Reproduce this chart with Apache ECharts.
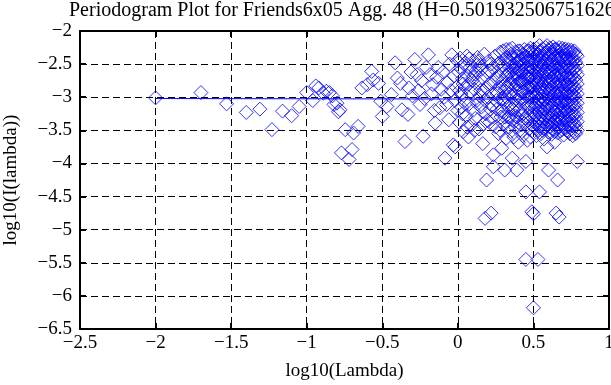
<!DOCTYPE html>
<html><head><meta charset="utf-8">
<script src="https://cdn.jsdelivr.net/npm/echarts@6/dist/echarts.min.js"></script>
<style>html,body{margin:0;padding:0;background:#fff}#c{width:611px;height:385px}</style>
</head><body><div id="c"></div>
<script>
const titleText = 'Periodogram Plot for Friends6x05 Agg. 48 (H=0.501932506751626)';
const xAxisName = 'log10(Lambda)';
const yAxisName = 'log10(I(lambda))';
const xTickLabels = ['\u22122.5','\u22122','\u22121.5','\u22121','\u22120.5','0','0.5','1'];
const yTickLabels = ['\u22126.5','\u22126','\u22125.5','\u22125','\u22124.5','\u22124','\u22123.5','\u22123','\u22122.5','\u22122'];

// fitted line (log10 lambda, log10 I)
const fitX = [-2.0, 0.80];
const fitY = [-3.02, -3.03];

// sparse low-frequency points [x, y]
const sparsePoints = [
[-2.00,-3.01],[-1.70,-2.93],[-1.53,-3.10],[-1.40,-3.23],[-1.31,-3.18],[-1.23,-3.49],[-1.16,-3.21],[-1.10,-3.28],[-1.05,-3.14],[-1.00,-2.93],
[-0.96,-3.05],[-0.94,-2.83],[-0.92,-2.86],[-0.89,-2.94],[-0.87,-2.91],[-0.85,-2.93],[-0.83,-2.98],[-0.82,-3.11],[-0.80,-3.09],[-0.79,-3.22],
[-0.78,-3.19],[-0.77,-3.84],[-0.745,-3.49],[-0.72,-3.94],[-0.70,-3.79],[-0.69,-3.54],[-0.66,-3.44],[-0.635,-2.86],[-0.60,-2.81],[-0.57,-2.61],
[-0.56,-2.74],[-0.525,-2.79],[-0.51,-3.06],
[-0.50,-3.29],[-0.47,-3.14],[-0.44,-2.96],[-0.415,-2.48],[-0.40,-2.71],[-0.38,-2.79],[-0.37,-3.19],[-0.35,-3.67],[-0.33,-3.26],[-0.325,-2.86],
[-0.31,-2.62],[-0.30,-2.98],[-0.285,-2.43],[-0.27,-2.66],[-0.26,-2.90],[-0.25,-3.11],[-0.24,-2.75],[-0.23,-3.59],[-0.22,-3.02],[-0.21,-2.55],
[-0.195,-2.36],[-0.185,-2.66],[-0.175,-2.95],[-0.165,-2.81],[-0.155,-3.20],[-0.15,-3.39],[-0.14,-2.70],[-0.13,-2.55],[-0.12,-3.16],[-0.11,-2.88],
[-0.10,-2.62],[-0.09,-3.00],[-0.085,-3.92],[-0.075,-3.11],[-0.07,-2.78],[-0.06,-3.34],[-0.055,-2.50],[-0.045,-2.90],[-0.04,-2.36],[-0.03,-3.72],
[-0.025,-2.68],[-0.02,-3.05],[-0.018,-3.75],[-0.01,-2.85],[-0.005,-2.45],[0.0,-3.20],
[0.005,-2.62],[0.01,-3.38],[0.015,-2.41],[0.02,-2.95],[0.025,-3.15],[0.03,-2.72],[0.035,-3.52],[0.04,-2.50],[0.045,-3.05],[0.05,-2.85],
[0.055,-3.28],[0.06,-2.38],[0.065,-2.68],[0.07,-3.60],[0.075,-3.10],[0.08,-2.55],[0.085,-2.92],[0.09,-3.42],[0.095,-2.75],[0.10,-3.20],
[0.105,-2.45],[0.11,-2.88],[0.115,-3.32],[0.12,-2.60],[0.125,-3.05],[0.13,-2.40],[0.135,-2.78],[0.14,-3.48],[0.145,-2.98],[0.15,-2.52],
[0.155,-3.15],[0.16,-2.70],[0.165,-3.70],[0.17,-2.90],[0.175,-2.35],[0.18,-4.83],[0.185,-3.25],[0.19,-4.25],[0.195,-2.62],[0.20,-3.00],
[0.205,-2.45],[0.21,-3.38],[0.215,-2.80],[0.22,-4.75],[0.225,-3.12],[0.23,-2.55],[0.235,-3.87],[0.235,-4.05],[0.24,-2.95],[0.245,-2.38],
[0.25,-3.45],[0.255,-2.72],[0.26,-3.18],[0.265,-2.50],[0.27,-3.55],[0.275,-2.85],[0.28,-2.32],[0.285,-3.30],[0.29,-3.77],[0.29,-2.65],[0.295,-3.02],
[0.01,-2.90],[0.03,-3.25],[0.05,-2.48],[0.07,-2.80],[0.09,-2.60],[0.11,-3.50],[0.13,-3.10],[0.15,-2.90],[0.17,-3.40],[0.19,-2.85],
[0.21,-2.60],[0.23,-3.30],[0.25,-2.90],[0.27,-2.70],[0.29,-3.20],[0.02,-2.55],[0.06,-3.45],[0.10,-2.70],[0.14,-2.45],[0.18,-3.05],[0.22,-2.50],[0.26,-2.95],[0.28,-3.50],
[0.035,-2.80],[0.075,-2.42],[0.115,-2.65],[0.155,-2.58],[0.195,-3.35],[0.235,-2.78],[0.255,-3.05],[0.275,-2.48],[0.215,-3.18],[0.125,-2.52]
];

// dense high-frequency columns: x and the y values seen at that x
const colX = [0.30,0.31,0.32,0.33,0.34,0.35,0.36,0.37,0.38,0.39,0.40,0.41,0.42,0.43,0.44,0.45,0.46,0.47,0.48,0.49,
  0.50,0.51,0.52,0.53,0.54,0.55,0.56,0.57,0.58,0.59,0.60,0.61,0.62,0.63,0.64,0.65,0.66,0.67,0.68,0.69,0.70,0.71,0.72,0.73,0.74,0.75,0.76,0.77,0.78,0.79];
const colY = [
[-2.30,-2.52,-2.75,-3.05,-3.22,-3.40],
[-2.42,-2.55,-2.90,-3.08,-3.30,-4.10],
[-2.28,-2.40,-2.68,-2.85,-3.00,-3.62],
[-2.50,-2.66,-2.85,-3.15,-3.30,-3.45],
[-2.28,-2.45,-2.62,-2.80,-2.95,-3.30],
[-2.35,-2.48,-2.78,-2.92,-3.10,-3.52],
[-2.26,-2.55,-2.70,-3.00,-3.18,-3.35,-3.92],
[-2.40,-2.58,-2.72,-2.88,-3.20,-3.60],
[-2.32,-2.52,-2.65,-2.82,-3.12,-3.28,-3.45],
[-2.38,-2.50,-2.65,-2.80,-2.98,-3.30,-4.10],
[-2.30,-2.45,-2.60,-2.72,-3.05,-3.20,-3.38,-3.68],
[-2.30,-2.44,-2.60,-2.76,-2.90,-3.18,-3.50],
[-2.42,-2.55,-2.75,-2.88,-3.02,-3.28,-3.42],
[-2.35,-2.50,-2.62,-2.78,-2.92,-3.25,-3.58],
[-2.28,-2.40,-2.50,-2.65,-2.80,-3.10,-3.40],
[-2.38,-2.55,-2.68,-2.85,-2.98,-3.32,-3.97,-4.43,-5.45],
[-2.30,-2.45,-2.60,-2.72,-2.90,-3.05,-3.35,-3.65],
[-2.30,-2.45,-2.58,-2.70,-2.85,-3.00,-3.15,-3.48],
[-2.26,-2.40,-2.55,-2.70,-2.85,-3.00,-3.28,-3.60],
[-2.33,-2.47,-2.55,-2.68,-2.82,-2.97,-3.12,-3.42,-4.73],
[-2.28,-2.41,-2.57,-2.66,-2.83,-2.95,-3.09,-3.24,-3.37,-3.52,-4.76,-6.18],
[-2.33,-2.47,-2.60,-2.74,-2.88,-3.01,-3.18,-3.30,-3.46],
[-2.26,-2.38,-2.53,-2.69,-2.81,-2.97,-3.12,-3.27,-3.41,-3.58],
[-2.36,-2.50,-2.63,-2.77,-2.92,-3.06,-3.20,-3.35,-3.49,-5.45],
[-2.22,-2.31,-2.45,-2.59,-2.72,-2.86,-3.03,-3.15,-3.31,-3.44,-4.43],
[-2.30,-2.43,-2.55,-2.70,-2.84,-2.99,-3.11,-3.26,-3.40,-3.55],
[-2.27,-2.39,-2.52,-2.65,-2.79,-2.93,-3.07,-3.22,-3.36,-3.50],
[-2.34,-2.48,-2.61,-2.75,-2.90,-3.04,-3.17,-3.32,-3.47,-3.63],
[-2.25,-2.37,-2.50,-2.64,-2.78,-2.91,-3.05,-3.19,-3.34,-3.46],
[-2.22,-2.32,-2.46,-2.58,-2.73,-2.87,-3.00,-3.14,-3.29,-3.42,-3.75],
[-2.29,-2.42,-2.56,-2.69,-2.82,-2.96,-3.10,-3.25,-3.38,-3.53,-4.10],
[-2.26,-2.36,-2.49,-2.62,-2.76,-2.89,-3.02,-3.16,-3.31,-3.44],
[-2.31,-2.44,-2.57,-2.71,-2.85,-2.98,-3.13,-3.27,-3.40,-3.56],
[-2.24,-2.35,-2.51,-2.63,-2.77,-2.92,-3.06,-3.21,-3.35,-3.48],
[-2.28,-2.40,-2.54,-2.67,-2.80,-2.94,-3.08,-3.23,-3.37,-3.52,-3.68],
[-2.27,-2.38,-2.52,-2.66,-2.79,-2.93,-3.04,-3.18,-3.33,-3.47,-4.75],
[-2.30,-2.43,-2.56,-2.70,-2.83,-2.97,-3.12,-3.26,-3.39,-3.54,-4.25],
[-2.25,-2.37,-2.49,-2.62,-2.76,-2.90,-3.03,-3.17,-3.31,-3.45,-4.81],
[-2.29,-2.41,-2.55,-2.68,-2.82,-2.95,-3.09,-3.24,-3.38,-3.51],
[-2.26,-2.39,-2.52,-2.65,-2.78,-2.92,-3.06,-3.20,-3.34,-3.49],
[-2.31,-2.44,-2.58,-2.71,-2.84,-2.98,-3.13,-3.27,-3.41,-3.57],
[-2.27,-2.36,-2.50,-2.63,-2.77,-2.91,-3.05,-3.19,-3.32,-3.46],
[-2.30,-2.42,-2.55,-2.69,-2.82,-2.96,-3.10,-3.23,-3.37,-3.50],
[-2.28,-2.40,-2.53,-2.66,-2.80,-2.93,-3.07,-3.21,-3.35,-3.52],
[-2.32,-2.45,-2.57,-2.72,-2.86,-2.99,-3.14,-3.28,-3.42,-3.55],
[-2.29,-2.40,-2.54,-2.67,-2.81,-2.94,-3.08,-3.22,-3.36,-3.48],
[-2.33,-2.46,-2.59,-2.73,-2.87,-3.01,-3.15,-3.29,-3.43,-3.58],
[-2.30,-2.42,-2.56,-2.70,-2.83,-2.97,-3.11,-3.25,-3.39,-3.52],
[-2.35,-2.47,-2.61,-2.74,-2.88,-3.02,-3.16,-3.30,-3.44,-3.55],
[-2.38,-2.52,-2.66,-2.80,-2.95,-3.09,-3.23,-3.37,-3.50,-3.97]
];

const scatterData = sparsePoints.slice();
colX.forEach((x, i) => colY[i].forEach(y => scatterData.push([x, y])));

const X_MIN = -2.5, X_MAX = 1, Y_MIN = -6.5, Y_MAX = -2, STEP = 0.5;
const FONT = '"Liberation Serif", "Times New Roman", serif';
const chart = echarts.init(document.getElementById('c'), null, {renderer: 'canvas'});
const frameLine = {show: true, onZero: false, lineStyle: {color: '#000', width: 2}};
const tick = {show: true, inside: true, length: 6, lineStyle: {color: '#000', width: 2}};
const split = {show: true, lineStyle: {color: '#000', width: 1, type: [7, 4]}};
chart.setOption({
  animation: false,
  backgroundColor: '#fff',
  title: {text: titleText, left: 69, top: 1, padding: 0, textStyle: {fontFamily: FONT, fontSize: 20, fontWeight: 'normal', color: '#000'}},
  grid: {left: 80, right: 2, top: 31, bottom: 56, containLabel: false, outerBoundsMode: 'none'},
  xAxis: [
    {type: 'value', min: X_MIN, max: X_MAX, interval: STEP, position: 'bottom',
     axisLine: frameLine, axisTick: tick, splitLine: split,
     axisLabel: {fontFamily: FONT, fontSize: 19, color: '#000', margin: 5, hideOverlap: false,
       formatter: v => xTickLabels[Math.round((v - X_MIN) / STEP)]},
     name: xAxisName, nameLocation: 'middle', nameGap: 33,
     nameTextStyle: {fontFamily: FONT, fontSize: 19, color: '#000'}},
    {type: 'value', min: X_MIN, max: X_MAX, interval: STEP, position: 'top',
     axisLine: frameLine, axisTick: tick, splitLine: {show: false}, axisLabel: {show: false}}
  ],
  yAxis: [
    {type: 'value', min: Y_MIN, max: Y_MAX, interval: STEP, position: 'left',
     axisLine: frameLine, axisTick: tick, splitLine: split,
     axisLabel: {fontFamily: FONT, fontSize: 19, color: '#000', margin: 8, hideOverlap: false,
       formatter: v => yTickLabels[Math.round((v - Y_MIN) / STEP)]},
     name: yAxisName, nameLocation: 'middle', nameGap: 59, nameRotate: 90,
     nameTextStyle: {fontFamily: FONT, fontSize: 19, color: '#000'}},
    {type: 'value', min: Y_MIN, max: Y_MAX, interval: STEP, position: 'right',
     axisLine: frameLine, axisTick: tick, splitLine: {show: false}, axisLabel: {show: false}}
  ],
  series: [
    {type: 'scatter', symbol: 'diamond', symbolSize: 14, data: scatterData,
     itemStyle: {color: 'rgba(0,0,0,0)', borderColor: '#0000ff', borderWidth: 1},
     emphasis: {disabled: true}, silent: true},
    {type: 'line', data: fitX.map((x, i) => [x, fitY[i]]), showSymbol: false, symbol: 'none',
     lineStyle: {color: '#0000ff', width: 1}, silent: true, z: 3}
  ]
});
</script></body></html>
